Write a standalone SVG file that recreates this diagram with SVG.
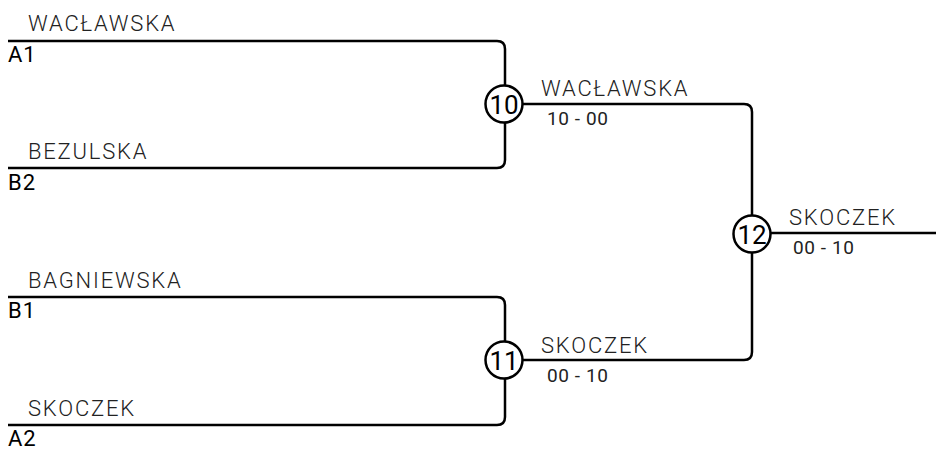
<svg xmlns="http://www.w3.org/2000/svg" width="936" height="450" viewBox="0 0 936 450">
<style>
.ln{fill:none;stroke:#000;stroke-width:2.5}
.nm{font-family:Roboto,"Liberation Sans",sans-serif;font-weight:300;font-size:22px;letter-spacing:1.8px;fill:#222}
.sd{font-family:Roboto,"Liberation Sans",sans-serif;font-size:22px;letter-spacing:1px;fill:#000}
.sc{font-family:Roboto,"Liberation Sans",sans-serif;font-size:19px;letter-spacing:0.6px;fill:#222}
.cn{font-family:Roboto,"Liberation Sans",sans-serif;font-size:26px;fill:#000;text-anchor:middle}
.ci{fill:#fff;stroke:#000;stroke-width:2.5}
</style>
<rect width="936" height="450" fill="#fff"/>
<g id="connectors">
<path class="ln" d="M8,41 H497 Q505,41 505,49 V160 Q505,168 497,168 H8"/>
<path class="ln" d="M8,297 H497 Q505,297 505,305 V417 Q505,425 497,425 H8"/>
<path class="ln" d="M520,104 H744 Q752,104 752,112 V352 Q752,360 744,360 H520"/>
<path class="ln" d="M768,233 H936"/>
</g>
<g id="A1"><text class="nm" x="28" y="31">WACŁAWSKA</text><text class="sd" x="8" y="62">A1</text></g>
<g id="B2"><text class="nm" x="28" y="159">BEZULSKA</text><text class="sd" x="8" y="190">B2</text></g>
<g id="B1"><text class="nm" x="28" y="288">BAGNIEWSKA</text><text class="sd" x="8" y="318">B1</text></g>
<g id="A2"><text class="nm" x="28" y="416">SKOCZEK</text><text class="sd" x="8" y="446">A2</text></g>
<g id="m10"><circle class="ci" cx="504" cy="104" r="18.5"/><text class="cn" x="504" y="113.5">10</text><text class="nm" x="541" y="96">WACŁAWSKA</text><text class="sc" x="547" y="125">10 - 00</text></g>
<g id="m11"><circle class="ci" cx="504" cy="360" r="18.5"/><text class="cn" x="504" y="369.5">11</text><text class="nm" x="541" y="353">SKOCZEK</text><text class="sc" x="547" y="382">00 - 10</text></g>
<g id="m12"><circle class="ci" cx="752" cy="234" r="18.5"/><text class="cn" x="752" y="243.5">12</text><text class="nm" x="789" y="225">SKOCZEK</text><text class="sc" x="793" y="254">00 - 10</text></g>
</svg>
